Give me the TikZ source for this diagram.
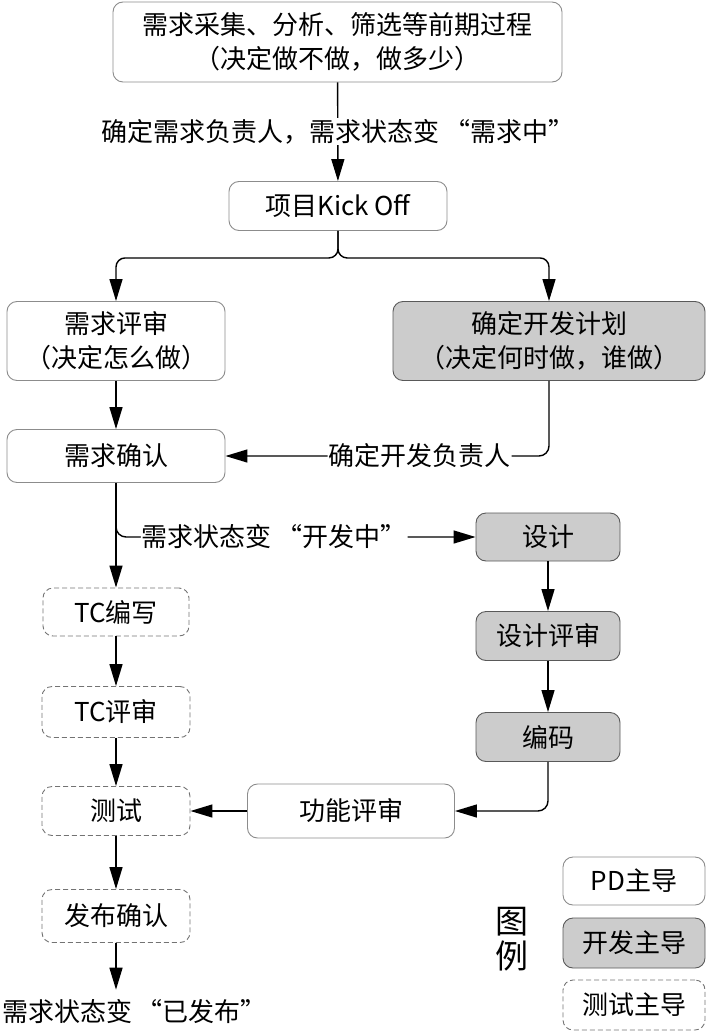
\documentclass[tikz,border=0pt]{standalone}
\usepackage{fontspec}
\setmainfont{Noto Sans CJK SC}
% full-width style quotation marks
\newcommand\openq{\hspace{0.18em}“}
\newcommand\closeq{”\hspace{0.18em}}
\usetikzlibrary{arrows.meta}
\begin{document}
\begin{tikzpicture}[x=1pt,y=-1pt,
  box/.style={draw=black!45, line width=0.9pt, rounded corners=10pt, align=center,
    inner sep=0pt, font=\fontsize{26}{34}\selectfont},
  pd/.style={box, fill=white},
  dev/.style={box, draw=black!65, fill=black!20},
  qa/.style={box, draw=black!55, dash pattern=on 5pt off 3pt},
  flow/.style={line width=1.4pt, -{Triangle[length=22pt,width=13pt]}},
  lbl/.style={fill=white, inner sep=1pt, font=\fontsize{26}{30}\selectfont},
]
\useasboundingbox (0,0) rectangle (707,1032);

% process steps
\node[pd, minimum width=449, minimum height=80] (pre) at (337.5,42)
  {需求采集、分析、筛选等前期过程\\（决定做不做，做多少）};
\node[pd, minimum width=218, minimum height=49] (kick) at (338,206) {项目Kick Off};
\node[pd, minimum width=218, minimum height=79] (review) at (116,341)
  {需求评审\\（决定怎么做）};
\node[dev, minimum width=312, minimum height=79] (plan) at (549,341)
  {确定开发计划\\（决定何时做，谁做）};
\node[pd, minimum width=218, minimum height=53] (confirm) at (116,456) {需求确认};
\node[dev, minimum width=144, minimum height=48] (design) at (548,537) {设计};
\node[dev, minimum width=144, minimum height=49] (dreview) at (548,636) {设计评审};
\node[dev, minimum width=144, minimum height=49] (code) at (548,737) {编码};
\node[qa, minimum width=146, minimum height=48] (tcw) at (116,612) {TC编写};
\node[qa, minimum width=148, minimum height=51] (tcr) at (116,712) {TC评审};
\node[qa, minimum width=148, minimum height=49] (test) at (116,811) {测试};
\node[pd, minimum width=207, minimum height=54] (func) at (351,811) {功能评审};
\node[qa, minimum width=148, minimum height=53] (rel) at (116,916) {发布确认};
\node[lbl, inner sep=0pt, anchor=west] (relnote) at (2,1012) {需求状态变\openq 已发布\closeq};

% legend
\node[pd, minimum width=142, minimum height=48] (lpd) at (634,881) {PD主导};
\node[dev, minimum width=142, minimum height=50] (ldev) at (634,943) {开发主导};
\node[qa, minimum width=142, minimum height=50] (lqa) at (634,1005) {测试主导};
\node[align=center, inner sep=0pt, font=\fontsize{33}{35}\selectfont] (legend) at (512,939) {图\\例};

% connectors
\draw[flow] (pre) -- node[lbl]{确定需求负责人，需求状态变\openq 需求中\closeq} (kick);
\draw[flow, rounded corners=9pt] (kick.south) -- ++(0,27) -| (review.north);
\draw[flow, rounded corners=9pt] (kick.south) -- ++(0,27) -| (plan.north);
\draw[flow] (review) -- (confirm);
\draw[flow, rounded corners=10pt] (plan.south) |- node[lbl, pos=0.7]{确定开发负责人} (confirm.east);
\draw[flow] (confirm) -- (tcw);
\coordinate (fork) at (116,515);
\draw[flow, rounded corners=10pt] (fork) |- node[lbl, pos=0.72]{需求状态变\openq 开发中\closeq} (design.west);
\draw[flow] (design) -- (dreview);
\draw[flow] (dreview) -- (code);
\draw[flow, rounded corners=10pt] (code.south) |- (func.east);
\draw[flow] (func) -- (test);
\draw[flow] (tcw) -- (tcr);
\draw[flow] (tcr) -- (test);
\draw[flow] (test) -- (rel);
\draw[flow, shorten >=10pt] (rel.south) -- (rel.south |- relnote.north);
\end{tikzpicture}
\end{document}
